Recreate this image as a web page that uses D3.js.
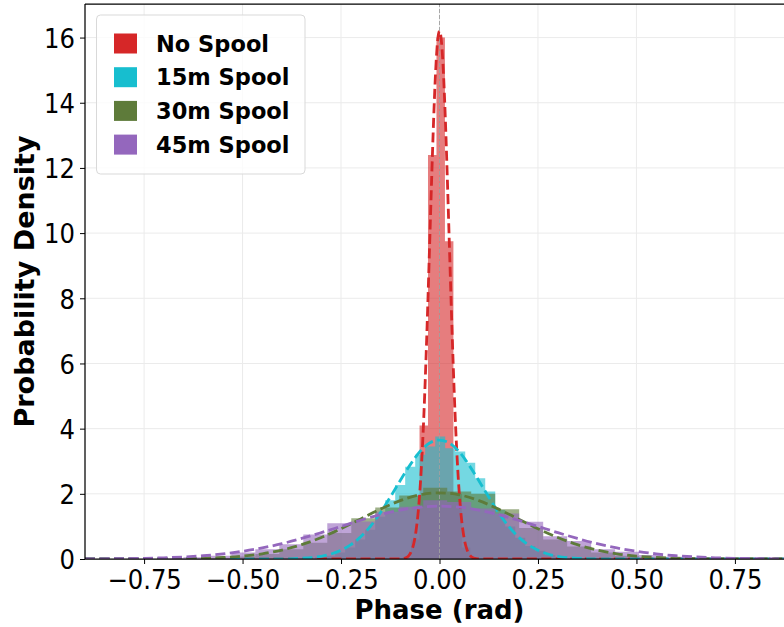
<!DOCTYPE html>
<html>
<head>
<meta charset="utf-8">
<script src="https://cdn.jsdelivr.net/npm/d3@7"></script>
<style>
  body { margin: 0; background: #fff; }
</style>
</head>
<body>
<div id="chart"></div>
<script>
// series
var seriesNames = ["No Spool", "15m Spool", "30m Spool", "45m Spool"];
var seriesColors = ["#d62728", "#17becf", "#5e7b3a", "#9467bd"];

// histograms: first bin edge, bin width and density of each bin
var binStart = [-0.0937, -0.3157, -0.5894, -0.7112];
var binWidth = [0.0215, 0.0254, 0.0609, 0.0609];
var histNoSpool = [0.05, 0.6, 4.1, 12.4, 16.0, 9.75, 2.0, 0.35, 0.05];
var hist15m = [0.05, 0.1, 0.2, 0.35, 0.6, 0.9, 1.3, 1.8, 2.27, 2.83, 3.2, 3.45, 3.76,
               3.4, 3.3, 2.95, 2.48, 2.07, 1.5, 1.0, 0.65, 0.4, 0.25, 0.12, 0.06, 0.02];
var hist30m = [0.03, 0.08, 0.15, 0.3, 0.5, 0.8, 1.25, 1.58, 1.95, 2.19, 2.07, 2.0,
               1.53, 0.95, 0.6, 0.38, 0.2, 0.1, 0.05, 0.02];
var hist45m = [0.02, 0.05, 0.1, 0.2, 0.3, 0.45, 0.75, 1.1, 1.15, 1.45, 1.6, 1.8, 1.75,
               1.55, 1.4, 1.14, 0.7, 0.55, 0.3, 0.22, 0.12, 0.07, 0.04, 0.02, 0.01];

// fitted curves (dashed)
var fitNoSpoolX = [-0.9, -0.1, -0.09, -0.085, -0.08, -0.075, -0.07, -0.065, -0.06, -0.055, -0.05,
                   -0.045, -0.04, -0.035, -0.03, -0.025, -0.02, -0.015, -0.01, -0.005, 0,
                   0.005, 0.01, 0.015, 0.02, 0.025, 0.03, 0.035, 0.04, 0.045, 0.05,
                   0.055, 0.06, 0.065, 0.07, 0.075, 0.08, 0.085, 0.09, 0.1, 0.9];
var fitNoSpoolY = [0, 0, 0.02, 0.04, 0.08, 0.155, 0.28, 0.49, 0.83, 1.33, 2.05,
                   3.04, 4.32, 5.89, 7.70, 9.67, 11.64, 13.45, 14.92, 15.87, 16.2,
                   15.87, 14.92, 13.45, 11.64, 9.67, 7.70, 5.89, 4.32, 3.04, 2.05,
                   1.33, 0.83, 0.49, 0.28, 0.155, 0.08, 0.04, 0.02, 0, 0];
var fit15mX = [-0.9, -0.5, -0.4, -0.35, -0.325, -0.3, -0.275, -0.25, -0.225, -0.2, -0.175, -0.15,
               -0.125, -0.1, -0.075, -0.05, -0.025, 0, 0.025, 0.05, 0.075, 0.1, 0.125, 0.15,
               0.175, 0.2, 0.225, 0.25, 0.275, 0.3, 0.325, 0.35, 0.4, 0.5, 0.9];
var fit15mY = [0, 0, 0.004, 0.022, 0.044, 0.084, 0.154, 0.27, 0.44, 0.68, 1.01, 1.42,
               1.90, 2.40, 2.88, 3.29, 3.56, 3.65, 3.56, 3.29, 2.88, 2.40, 1.90, 1.42,
               1.01, 0.68, 0.44, 0.27, 0.154, 0.084, 0.044, 0.022, 0.004, 0, 0];
var fitWideX = [-0.9, -0.85, -0.8, -0.75, -0.7, -0.65, -0.6, -0.55, -0.5, -0.45, -0.4, -0.35,
                -0.3, -0.25, -0.2, -0.15, -0.1, -0.05, 0, 0.05, 0.1, 0.15, 0.2, 0.25, 0.3,
                0.35, 0.4, 0.45, 0.5, 0.55, 0.6, 0.65, 0.7, 0.75, 0.8, 0.85, 0.9];
var fit30mY = [0, 0, 0, 0.002, 0.0044, 0.010, 0.0225, 0.046, 0.089, 0.16, 0.275, 0.44,
               0.66, 0.93, 1.23, 1.53, 1.79, 1.97, 2.03, 1.97, 1.79, 1.53, 1.23, 0.93, 0.66,
               0.44, 0.275, 0.16, 0.089, 0.046, 0.0225, 0.010, 0.0044, 0.002, 0, 0, 0];
var fit45mY = [0.003, 0.006, 0.012, 0.021, 0.037, 0.063, 0.10, 0.158, 0.237, 0.34, 0.47, 0.63,
               0.81, 1.00, 1.19, 1.36, 1.50, 1.59, 1.62, 1.59, 1.50, 1.36, 1.19, 1.00, 0.81,
               0.63, 0.47, 0.34, 0.237, 0.158, 0.10, 0.063, 0.037, 0.021, 0.012, 0.006, 0.003];

// axes
var xTicks = [-0.75, -0.5, -0.25, 0, 0.25, 0.5, 0.75];
var yTicks = [0, 2, 4, 6, 8, 10, 12, 14, 16];
var xLabel = "Phase (rad)";
var yLabel = "Probability Density";

var width = 784, height = 627;
var svg = d3.select("#chart").append("svg")
    .attr("width", width)
    .attr("height", height)
    .style("font-family", "'DejaVu Sans', sans-serif");

var x = d3.scaleLinear().domain([-0.9, 0.9]).range([85, 794]);
var y = d3.scaleLinear().domain([0, 17.03]).range([559, 4]);

svg.append("clipPath").attr("id", "plotclip")
  .append("rect").attr("x", 85).attr("y", 4).attr("width", 709).attr("height", 555);

// grid
var grid = svg.append("g");
grid.selectAll("line.gx").data(xTicks).enter().append("line")
    .attr("x1", function(d) { return x(d); }).attr("x2", function(d) { return x(d); })
    .attr("y1", y.range()[0]).attr("y2", y.range()[1])
    .attr("stroke", "#ebebeb").attr("stroke-width", 1);
grid.selectAll("line.gy").data(yTicks).enter().append("line")
    .attr("x1", 85).attr("x2", 794)
    .attr("y1", function(d) { return y(d); }).attr("y2", function(d) { return y(d); })
    .attr("stroke", "#ebebeb").attr("stroke-width", 1);

var plot = svg.append("g").attr("clip-path", "url(#plotclip)");

// histograms as step areas
var hists = [histNoSpool, hist15m, hist30m, hist45m];
var area = d3.area()
    .curve(d3.curveStepAfter)
    .x(function(d) { return x(d[0]); })
    .y0(y(0))
    .y1(function(d) { return y(d[1]); });

hists.forEach(function(h, i) {
    var pts = h.map(function(v, j) { return [binStart[i] + j * binWidth[i], v]; });
    pts.push([binStart[i] + h.length * binWidth[i], h[h.length - 1]]);
    plot.append("path")
        .datum(pts)
        .attr("d", area)
        .attr("fill", seriesColors[i])
        .attr("fill-opacity", 0.6);
});

// vertical reference line at zero
plot.append("line")
    .attr("x1", x(0)).attr("x2", x(0))
    .attr("y1", y.range()[0]).attr("y2", y.range()[1])
    .attr("stroke", "#a0a0a0").attr("stroke-width", 0.9)
    .attr("stroke-dasharray", "4,2");

// fit curves
var fits = [
    [fitNoSpoolX, fitNoSpoolY],
    [fit15mX, fit15mY],
    [fitWideX, fit30mY],
    [fitWideX, fit45mY]
];
var line = d3.line()
    .curve(d3.curveMonotoneX)
    .x(function(d) { return x(d[0]); })
    .y(function(d) { return y(d[1]); });

fits.forEach(function(f, i) {
    var pts = f[0].map(function(v, j) { return [v, f[1][j]]; });
    plot.append("path")
        .datum(pts)
        .attr("d", line)
        .attr("fill", "none")
        .attr("stroke", seriesColors[i])
        .attr("stroke-width", 2.8)
        .attr("stroke-dasharray", "10,4.5");
});

// axes
var xAxis = svg.append("g")
    .attr("transform", "translate(0," + y(0) + ")")
    .call(d3.axisBottom(x).tickValues(xTicks).tickFormat(d3.format(".2f")).tickSize(5).tickPadding(4));
var yAxis = svg.append("g")
    .attr("transform", "translate(" + x(-0.9) + ",0)")
    .call(d3.axisLeft(y).tickValues(yTicks).tickFormat(d3.format("d")).tickSize(5).tickPadding(5));

[xAxis, yAxis].forEach(function(a) {
    a.select(".domain").remove();
    a.selectAll(".tick line").attr("stroke", "#000").attr("stroke-width", 1);
    a.selectAll(".tick text")
        .attr("fill", "#000")
        .style("font-family", "'DejaVu Sans Condensed', 'DejaVu Sans', sans-serif")
        .style("font-size", "27px");
});
xAxis.selectAll(".tick text").attr("dy", "0.76em");
yAxis.selectAll(".tick text").attr("dy", "0.36em");

// spines (right spine sits outside the window)
svg.append("line").attr("x1", 85).attr("x2", 85).attr("y1", 4).attr("y2", 559)
    .attr("stroke", "#000").attr("stroke-width", 1.25);
svg.append("line").attr("x1", 85).attr("x2", 794).attr("y1", 559).attr("y2", 559)
    .attr("stroke", "#000").attr("stroke-width", 1.25);
svg.append("line").attr("x1", 85).attr("x2", 794).attr("y1", 4).attr("y2", 4)
    .attr("stroke", "#000").attr("stroke-width", 1.25);

// axis labels
svg.append("text")
    .attr("x", x(0)).attr("y", 619)
    .attr("text-anchor", "middle")
    .style("font-size", "26px").style("font-weight", "bold")
    .text(xLabel);
svg.append("text")
    .attr("transform", "translate(34," + (y.range()[0] + y.range()[1]) / 2 + ") rotate(-90)")
    .attr("text-anchor", "middle")
    .style("font-size", "27px").style("font-weight", "bold")
    .text(yLabel);

// legend
var legend = svg.append("g");
legend.append("rect")
    .attr("x", 96.5).attr("y", 15).attr("width", 208.5).attr("height", 159)
    .attr("rx", 4)
    .attr("fill", "#fff").attr("fill-opacity", 0.8)
    .attr("stroke", "#d9d9d9").attr("stroke-width", 1);
var item = legend.selectAll("g.item").data(seriesNames).enter().append("g")
    .attr("transform", function(d, i) { return "translate(0," + (43.5 + i * 33.7) + ")"; });
item.append("rect")
    .attr("x", 114).attr("y", -10).attr("width", 23).attr("height", 20)
    .attr("fill", function(d, i) { return seriesColors[i]; });
item.append("text")
    .attr("x", 156).attr("dy", "0.36em")
    .style("font-size", "22.5px").style("font-weight", "bold")
    .text(function(d) { return d; });
</script>
</body>
</html>
